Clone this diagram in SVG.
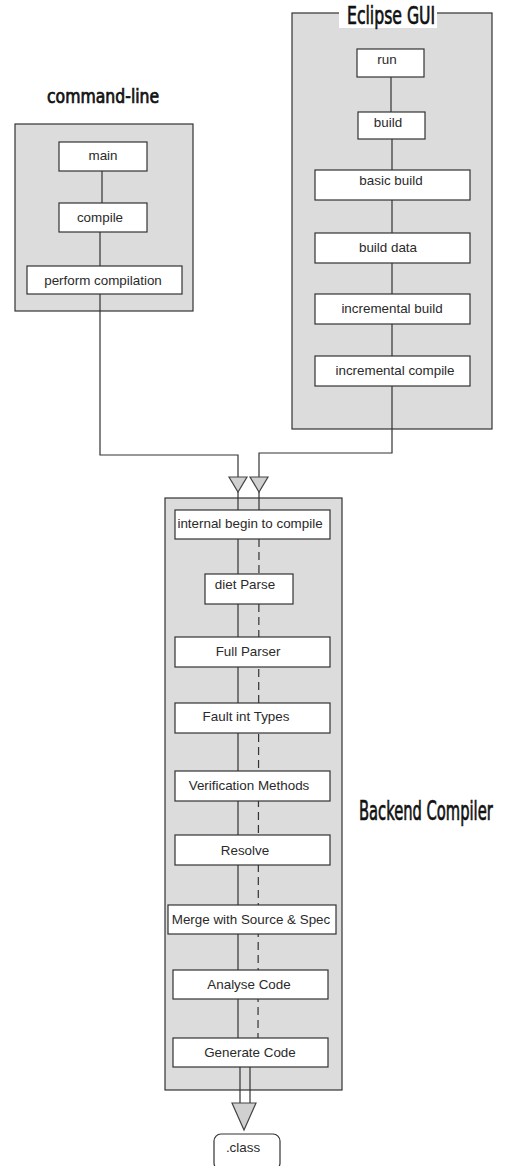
<svg xmlns="http://www.w3.org/2000/svg" width="510" height="1166" viewBox="0 0 510 1166">
  <style>
    .panel { fill: #dcdcdc; stroke: #333; stroke-width: 1.2; }
    .node { fill: #ffffff; stroke: #333; stroke-width: 1.2; }
    .label { font-family: "Liberation Sans", Arial, sans-serif; font-size: 13.4px; fill: #2a2a2a; text-anchor: middle; }
    .title { font-family: "DejaVu Sans Condensed", "DejaVu Sans", sans-serif; font-stretch: condensed; fill: #111; stroke: #111; stroke-width: 0.7; }
    .wire { fill: none; stroke: #333; stroke-width: 1.2; }
    .dash { fill: none; stroke: #333; stroke-width: 1.2; stroke-dasharray: 8 5; }
    .head { fill: #d0d0d0; stroke: #444; stroke-width: 1.2; stroke-linejoin: miter; }
  </style>

  <rect width="510" height="1166" fill="#ffffff"/>

  <!-- containers -->
  <g id="cmdline-panel">
    <rect class="panel" x="15" y="124" width="178" height="187"/>
    <text class="title" transform="translate(47 103) scale(0.6 1)" font-size="19" textLength="187" lengthAdjust="spacingAndGlyphs">command-line</text>
  </g>
  <g id="eclipse-panel">
    <rect class="panel" x="292" y="13" width="200" height="416"/>
    <rect x="339" y="0" width="98" height="28" fill="#ffffff"/>
    <text class="title" transform="translate(347 24) scale(0.6 1)" font-size="25.5" textLength="147" lengthAdjust="spacingAndGlyphs">Eclipse GUI</text>
  </g>
  <g id="backend-panel">
    <rect class="panel" x="165" y="498" width="177" height="592"/>
    <text class="title" transform="translate(359 820) scale(0.6 1)" font-size="27" textLength="223" lengthAdjust="spacingAndGlyphs">Backend Compiler</text>
  </g>

  <!-- connectors -->
  <g id="connectors">
    <line class="wire" x1="102" y1="171" x2="102" y2="203"/>
    <line class="wire" x1="100" y1="232" x2="100" y2="266"/>
    <line class="wire" x1="391" y1="77" x2="391" y2="112"/>
    <line class="wire" x1="392" y1="139" x2="392" y2="356"/>
    <polyline class="wire" points="100,294 100,455 238,455 238,477"/>
    <polyline class="wire" points="392,386 392,453 259,453 259,477"/>
    <polygon class="head" points="229,477 247,477 238,492"/>
    <polygon class="head" points="250,477 268,477 259,492"/>
    <line class="wire" x1="238" y1="492" x2="238" y2="1038"/>
    <line class="wire" x1="259" y1="492" x2="259" y2="510"/>
    <line class="dash" x1="259" y1="539" x2="258" y2="1038"/>
    <line class="wire" x1="240" y1="1067" x2="240" y2="1104"/>
    <line class="wire" x1="250" y1="1067" x2="250" y2="1104"/>
    <polygon class="head" points="232,1103 256,1103 244,1130"/>
  </g>

  <!-- command-line nodes -->
  <g id="main"><rect class="node" x="59" y="142" width="88" height="29"/><text class="label" x="103" y="160">main</text></g>
  <g id="compile"><rect class="node" x="59" y="203" width="88" height="29"/><text class="label" x="100" y="222">compile</text></g>
  <g id="perform-compilation"><rect class="node" x="27" y="266" width="155" height="28"/><text class="label" x="103" y="285">perform compilation</text></g>

  <!-- Eclipse GUI nodes -->
  <g id="run"><rect class="node" x="357" y="49" width="67" height="28"/><text class="label" x="387" y="64">run</text></g>
  <g id="build"><rect class="node" x="358" y="112" width="67" height="27"/><text class="label" x="388" y="127">build</text></g>
  <g id="basic-build"><rect class="node" x="315" y="170" width="155" height="30"/><text class="label" x="391" y="185">basic build</text></g>
  <g id="build-data"><rect class="node" x="315" y="233" width="155" height="30"/><text class="label" x="388" y="252">build data</text></g>
  <g id="incremental-build"><rect class="node" x="315" y="294" width="155" height="30"/><text class="label" x="392" y="313">incremental build</text></g>
  <g id="incremental-compile"><rect class="node" x="315" y="356" width="155" height="30"/><text class="label" x="395" y="375">incremental compile</text></g>

  <!-- backend nodes -->
  <g id="internal-begin"><rect class="node" x="175" y="510" width="155" height="29"/><text class="label" x="250" y="528">internal begin to compile</text></g>
  <g id="diet-parse"><rect class="node" x="205" y="574" width="88" height="30"/><text class="label" x="245" y="589">diet Parse</text></g>
  <g id="full-parser"><rect class="node" x="175" y="637" width="155" height="30"/><text class="label" x="248" y="656">Full Parser</text></g>
  <g id="fault-in-types"><rect class="node" x="175" y="703" width="155" height="30"/><text class="label" x="246" y="721">Fault int Types</text></g>
  <g id="verify-methods"><rect class="node" x="175" y="771" width="155" height="30"/><text class="label" x="249" y="790">Verification Methods</text></g>
  <g id="resolve"><rect class="node" x="175" y="835" width="155" height="30"/><text class="label" x="245" y="855">Resolve</text></g>
  <g id="merge"><rect class="node" x="168" y="905" width="168" height="29"/><text class="label" x="251" y="924">Merge with Source &amp; Spec</text></g>
  <g id="analyse-code"><rect class="node" x="173" y="970" width="155" height="29"/><text class="label" x="249" y="989">Analyse Code</text></g>
  <g id="generate-code"><rect class="node" x="173" y="1038" width="155" height="29"/><text class="label" x="250" y="1057">Generate Code</text></g>

  <!-- output -->
  <g id="class-file"><rect class="node" x="214" y="1134" width="66" height="36" rx="7"/><text class="label" x="243" y="1152">.class</text></g>
</svg>
